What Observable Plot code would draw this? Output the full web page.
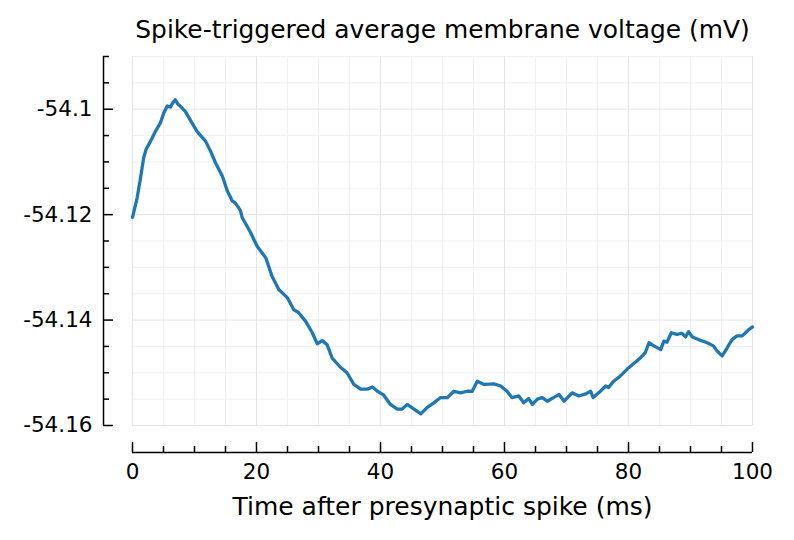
<!DOCTYPE html>
<html><head><meta charset="utf-8">
<script src="https://cdn.jsdelivr.net/npm/d3@7"></script>
<script src="https://cdn.jsdelivr.net/npm/@observablehq/plot@0.6"></script>
<style>body{margin:0;background:#fff}</style>
</head><body><div id="chart"></div>
<script>
const titleText = "Spike-triggered average membrane voltage (mV)";
const xLabel = "Time after presynaptic spike (ms)";
const time = [0,0.75,1.3,1.8,2.2,2.9,3.7,4.5,5.05,5.6,6.1,6.5,6.9,7.3,7.7,8.5,9.6,10.4,11.8,12.6,13.4,14.5,15.3,16.1,16.6,17.4,17.7,19.0,20.1,21.5,22.5,23.6,25.0,26.0,26.8,27.9,29.0,29.8,30.6,31.4,32.2,33.5,34.6,35.7,36.8,37.9,38.7,39.5,40.5,41.6,42.7,43.5,44.3,45.4,46.5,47.5,48.6,49.7,50.8,51.8,52.9,54.0,54.8,55.6,56.7,58.3,59.4,60.4,61.2,62.3,63.1,63.9,64.5,65.3,66.1,66.9,67.9,68.8,69.6,70.9,72.0,73.1,73.9,74.3,75.2,76.3,76.8,77.6,78.7,79.8,80.9,81.9,82.7,83.3,84.1,85.2,85.7,86.2,86.9,87.8,88.6,89.2,89.7,90.3,91.3,92.7,93.7,94.3,95.1,95.9,96.7,97.5,98.3,98.9,99.4,100];
const voltage = [-54.1205,-54.1168,-54.1130,-54.1092,-54.1076,-54.1061,-54.1042,-54.1026,-54.1007,-54.0994,-54.0996,-54.0988,-54.0982,-54.0990,-54.0994,-54.1004,-54.1026,-54.1042,-54.1061,-54.1080,-54.1102,-54.1127,-54.1155,-54.1174,-54.1178,-54.1192,-54.1206,-54.1233,-54.1260,-54.1282,-54.1317,-54.1342,-54.1358,-54.1380,-54.1386,-54.1402,-54.1424,-54.1445,-54.1439,-54.1447,-54.1472,-54.1489,-54.1500,-54.1522,-54.1531,-54.1531,-54.1527,-54.1535,-54.1542,-54.1560,-54.1569,-54.1569,-54.1560,-54.1569,-54.1578,-54.1566,-54.1557,-54.1547,-54.1547,-54.1535,-54.1538,-54.1535,-54.1535,-54.1516,-54.1522,-54.1521,-54.1525,-54.1535,-54.1547,-54.1544,-54.1557,-54.1549,-54.1560,-54.1550,-54.1547,-54.1554,-54.1547,-54.1541,-54.1554,-54.1538,-54.1544,-54.1540,-54.1535,-54.1547,-54.1538,-54.1525,-54.1528,-54.1516,-54.1506,-54.1493,-54.1482,-54.1472,-54.1462,-54.1443,-54.1449,-54.1456,-54.1440,-54.1442,-54.1424,-54.1427,-54.1425,-54.1432,-54.1422,-54.1432,-54.1437,-54.1443,-54.1449,-54.1459,-54.1468,-54.1453,-54.1437,-54.1430,-54.1430,-54.1424,-54.1418,-54.1413];
const xMajor = [0,20,40,60,80,100];
const xMinor = [5,10,15,25,30,35,45,50,55,65,70,75,85,90,95];
const yMajor = [-54.16,-54.14,-54.12,-54.1];
const yMajorLabels = ["-54.16","-54.14","-54.12","-54.1"];
const yMinor = [-54.155,-54.15,-54.145,-54.135,-54.13,-54.125,-54.115,-54.11,-54.105,-54.095,-54.09];

const data = time.map((t,i)=>({t, v: voltage[i]}));
const W = 794, H = 540, mL = 132, mR = 42, mT = 56, mB = 115;
const frameW = W - mL - mR, frameH = H - mT - mB;
const axisOff = 27, yAxisOff = 29;
const font = "DejaVu Sans";

const chart = Plot.plot({
  width: W, height: H,
  marginLeft: mL, marginRight: mR, marginTop: mT, marginBottom: mB,
  style: {fontFamily: font, fontSize: "16px", background: "#fff", color: "#000"},
  x: {domain: [0,100]},
  y: {domain: [-54.16,-54.09]},
  marks: [
    Plot.ruleX(xMinor, {stroke: "#f1f1f1", strokeWidth: 1}),
    Plot.ruleY(yMinor, {stroke: "#f1f1f1", strokeWidth: 1}),
    Plot.ruleX(xMajor, {stroke: "#e4e4e4", strokeWidth: 1}),
    Plot.ruleY(yMajor, {stroke: "#e4e4e4", strokeWidth: 1}),
    Plot.line(data, {x: "t", y: "v", stroke: "#1f77b4", strokeWidth: 3.3, strokeLinejoin: "round"}),
    // x axis (offset below frame)
    Plot.ruleY([-54.16], {dy: axisOff, stroke: "#000", strokeWidth: 1.5}),
    Plot.tickX(xMajor, {x: d=>d, insetTop: frameH - 10, dy: axisOff, stroke: "#000", strokeWidth: 1.5}),
    Plot.tickX(xMinor, {x: d=>d, insetTop: frameH - 6, dy: axisOff, stroke: "#000", strokeWidth: 1.5}),
    Plot.axisX(xMajor, {tickSize: 0, tickPadding: 38, label: null, fontSize: 21.5, fill: "#000"}),
    // y axis (offset left of frame)
    Plot.ruleX([0], {dx: -yAxisOff, stroke: "#000", strokeWidth: 1.5}),
    Plot.tickY(yMajor, {y: d=>d, insetRight: frameW - 10, dx: -yAxisOff, stroke: "#000", strokeWidth: 1.5}),
    Plot.tickY(yMinor, {y: d=>d, insetRight: frameW - 6, dx: -yAxisOff, stroke: "#000", strokeWidth: 1.5}),
    Plot.axisY(yMajor, {tickSize: 0, tickPadding: 40, label: null, fontSize: 21.5, fill: "#000",
      tickFormat: d => yMajorLabels[yMajor.indexOf(d)]}),
    // title and x label
    Plot.text([titleText], {frameAnchor: "top", dy: -26, lineAnchor: "middle", fontSize: 24.9, fill: "#000"}),
    Plot.text([xLabel], {frameAnchor: "bottom", dy: 81, lineAnchor: "middle", fontSize: 25, fill: "#000"})
  ]
});
document.getElementById("chart").appendChild(chart);
</script>
</body></html>
